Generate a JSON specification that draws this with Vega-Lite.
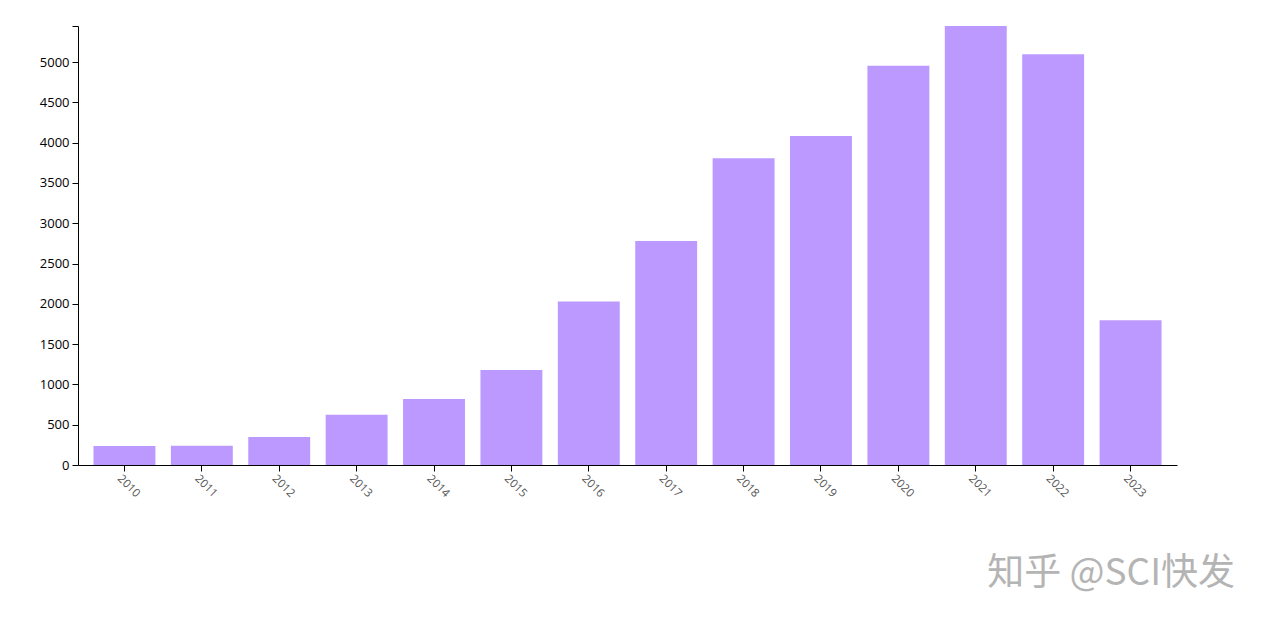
{
  "$schema": "https://vega.github.io/schema/vega-lite/v6.json",
  "width": 1099,
  "height": 439,
  "autosize": {"type": "none"},
  "padding": {"left": 78, "top": 26, "right": 90, "bottom": 155},
  "background": "white",
  "title": {
    "text": "知乎 @SCI快发",
    "orient": "bottom",
    "anchor": "end",
    "frame": "group",
    "dx": 58,
    "offset": 57,
    "font": "Noto Sans CJK SC",
    "fontSize": 37,
    "fontWeight": "normal",
    "color": "#b4b4b4"
  },
  "data": {
    "values": [
      {"year": "2010", "count": 236},
      {"year": "2011", "count": 240},
      {"year": "2012", "count": 347},
      {"year": "2013", "count": 624},
      {"year": "2014", "count": 819},
      {"year": "2015", "count": 1179},
      {"year": "2016", "count": 2030},
      {"year": "2017", "count": 2780},
      {"year": "2018", "count": 3805},
      {"year": "2019", "count": 4082},
      {"year": "2020", "count": 4955},
      {"year": "2021", "count": 5447},
      {"year": "2022", "count": 5095},
      {"year": "2023", "count": 1795}
    ]
  },
  "mark": {"type": "bar", "color": "#bb99ff"},
  "encoding": {
    "x": {
      "field": "year",
      "type": "ordinal",
      "scale": {"paddingInner": 0.2, "paddingOuter": 0.2},
      "axis": {
        "title": null,
        "labelAngle": 45,
        "labelAlign": "center",
        "labelBaseline": "middle",
        "labelPadding": 15,
        "labelOffset": 4,
        "labelFont": "Open Sans",
        "labelFontSize": 11.5,
        "labelColor": "#555555",
        "domainColor": "black",
        "tickColor": "black",
        "tickSize": 6,
        "grid": false
      }
    },
    "y": {
      "field": "count",
      "type": "quantitative",
      "scale": {"domain": [0, 5447], "nice": false, "zero": true},
      "axis": {
        "title": null,
        "values": [0, 500, 1000, 1500, 2000, 2500, 3000, 3500, 4000, 4500, 5000, 5447],
        "labelExpr": "datum.value > 5400 ? '' : datum.value",
        "labelFont": "Open Sans",
        "labelFontSize": 13,
        "labelColor": "black",
        "labelPadding": 3,
        "domainColor": "black",
        "tickColor": "black",
        "tickSize": 6,
        "grid": false
      }
    }
  },
  "config": {"view": {"stroke": null}}
}
